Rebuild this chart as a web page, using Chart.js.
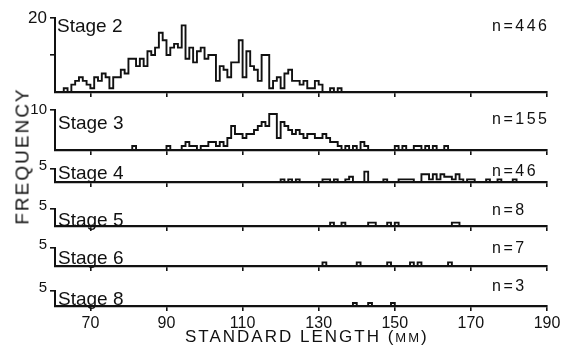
<!DOCTYPE html>
<html>
<head>
<meta charset="utf-8">
<script src="https://cdn.jsdelivr.net/npm/chart.js@4.4.0/dist/chart.umd.min.js"></script>
<style>
  body { margin: 0; background: #fff; }
  #wrap { position: relative; width: 567px; height: 348px; overflow: hidden;
          font-family: "Liberation Sans", Arial, sans-serif; color: #111; }
  #wrap canvas { position: absolute; left: 0; }
  .txt { position: absolute; white-space: nowrap; }
</style>
</head>
<body>
<div id="wrap"></div>
<script>
// data (1 mm bins, value = bin start)
const stageNames = ["Stage 2", "Stage 3", "Stage 4", "Stage 5", "Stage 6", "Stage 8"];
const sampleSizes = [446, 155, 46, 8, 7, 3];
const yTickValues = [[10, 20], [10], [5], [5], [5], [5]];
const xTickValues = [70, 90, 110, 130, 150, 170, 190];
const xMin = 60.7;
const xMax = 190;

const stage2Start = 61;
const stage2Counts = [0, 0, 1, 0, 2, 3, 4, 3, 2, 1,
  4, 3, 5, 4, 1, 4, 4, 6, 5, 9,
  9, 7, 9, 7, 11, 10, 12, 16, 14, 10,
  12, 13, 12, 18, 9, 12, 8, 11, 12, 9,
  10, 10, 3, 7, 6, 4, 8, 8, 14, 4,
  11, 7, 6, 3, 10, 10, 1, 3, 4, 1,
  5, 6, 3, 3, 2, 3, 1, 1, 3, 2,
  0, 0, 1, 0, 1];

const stage3Start = 81;
const stage3Counts = [1, 0, 0, 0, 0, 0, 0, 0, 0, 1,
  0, 0, 0, 1, 2, 1, 1, 0, 1, 1,
  2, 2, 1, 2, 1, 3, 6, 4, 4, 3,
  4, 4, 5, 6, 7, 6, 9, 9, 3, 7,
  6, 5, 4, 5, 4, 3, 4, 4, 3, 3,
  4, 3, 2, 2, 1, 0, 1, 0, 1, 0,
  2, 1, 0, 0, 0, 0, 0, 0, 0, 1,
  0, 1, 0, 0, 1, 1, 0, 1, 0, 1,
  0, 0, 1];

const stage4Bins = [120, 122, 124, 131, 132, 134, 137, 138, 142, 147, 151, 152, 153, 154,
  157, 158, 159, 160, 161, 162, 163, 164, 165, 166, 167, 169, 170, 174, 177, 181];
const stage4Counts = [1, 1, 1, 1, 1, 1, 1, 2, 4, 1, 1, 1, 1, 1,
  3, 3, 1, 3, 1, 3, 2, 2, 1, 3, 1, 1, 1, 1, 1, 1];

const stage5Bins = [133, 136, 143, 144, 148, 150, 165, 166];
const stage5Counts = [1, 1, 1, 1, 1, 1, 1, 1];

const stage6Bins = [131, 140, 148, 154, 156, 164];
const stage6Counts = [1, 1, 1, 1, 1, 1];

const stage8Bins = [139, 143, 149];
const stage8Counts = [1, 1, 1];

// page layout (pixels)
const panelTop = [18, 110, 169, 209, 248, 291];
const panelBase = [91.5, 150, 182, 226, 266, 306];
const stageLabelTop = [18, 115, 165, 212, 250, 291];
const nLabelTop = [20, 113, 165, 204, 242, 280];

const ink = "#111";
const fontFamily = '"Liberation Sans", Arial, sans-serif';
Chart.defaults.font.family = fontFamily;
Chart.defaults.color = ink;

function seq(start, counts) {
  return counts.map((c, i) => start + i);
}

function stepPoints(bins, counts) {
  const pts = [];
  bins.forEach((b, i) => {
    if (i === 0 || bins[i - 1] + 1 !== b) pts.push({ x: b, y: 0 });
    pts.push({ x: b, y: counts[i] });
    if (i === bins.length - 1 || bins[i + 1] !== b + 1) pts.push({ x: b + 1, y: 0 });
  });
  return pts;
}

const series = [
  stepPoints(seq(stage2Start, stage2Counts), stage2Counts),
  stepPoints(seq(stage3Start, stage3Counts), stage3Counts),
  stepPoints(stage4Bins, stage4Counts),
  stepPoints(stage5Bins, stage5Counts),
  stepPoints(stage6Bins, stage6Counts),
  stepPoints(stage8Bins, stage8Counts)
];

const wrap = document.getElementById("wrap");

function addText(html, left, capTop, size, spacing) {
  const d = document.createElement("div");
  d.className = "txt";
  d.innerHTML = html;
  d.style.left = left + "px";
  d.style.top = (capTop - 0.13 * size) + "px";
  d.style.fontSize = size + "px";
  d.style.lineHeight = size + "px";
  d.style.letterSpacing = (spacing || 0) + "px";
  wrap.appendChild(d);
  return d;
}

function makePanel(i) {
  const isBottom = i === stageNames.length - 1;
  const padTop = 12;
  const xAxisH = isBottom ? 34 : 6;
  const top = panelTop[i] - padTop;
  const height = Math.round(panelBase[i] - top + xAxisH);
  const yMax = yTickValues[i][yTickValues[i].length - 1];

  const canvas = document.createElement("canvas");
  canvas.width = 567;
  canvas.height = height;
  canvas.style.top = top + "px";
  wrap.appendChild(canvas);

  new Chart(canvas, {
    type: "line",
    data: {
      datasets: [{
        data: series[i],
        stepped: "before",
        borderColor: ink,
        borderWidth: 1.9,
        pointRadius: 0,
        fill: false
      }]
    },
    options: {
      responsive: false,
      animation: false,
      layout: { padding: { top: padTop, right: 20, left: 0, bottom: 0 } },
      plugins: { legend: { display: false }, tooltip: { enabled: false } },
      scales: {
        x: {
          type: "linear",
          min: xMin,
          max: xMax,
          afterBuildTicks: s => { s.ticks = xTickValues.map(v => ({ value: v })); },
          afterFit: s => { s.paddingLeft = 0; s.paddingRight = 0; s.height = xAxisH; },
          grid: { drawOnChartArea: false, drawTicks: true, tickLength: 5, color: ink, lineWidth: 1.6 },
          border: { display: true, color: ink, width: 2.2 },
          ticks: {
            display: isBottom, autoSkip: false, maxRotation: 0, padding: 3,
            font: { size: 16 }, color: ink
          }
        },
        y: {
          min: 0,
          max: yMax,
          afterBuildTicks: s => { s.ticks = yTickValues[i].map(v => ({ value: v })); },
          afterFit: s => { s.width = 55; s.paddingTop = 0; s.paddingBottom = 0; },
          grid: { drawOnChartArea: false, drawTicks: true, tickLength: 5, color: ink, lineWidth: 1.6 },
          border: { display: true, color: ink, width: 2 },
          ticks: {
            padding: 3,
            labelOffset: i < 2 ? 0 : -3,
            font: { size: i === 0 ? 17 : 15 },
            color: ink,
            callback: v => (v === yMax ? String(v) : "")
          }
        }
      }
    }
  });

  addText(stageNames[i], i === 0 ? 57 : 58, stageLabelTop[i], 19, 0);
  addText("n=" + sampleSizes[i], 492, nLabelTop[i], 16, 2.5);
}

stageNames.forEach((_, i) => makePanel(i));

addText('STANDARD LENGTH (<span style="font-size:13px">MM</span>)', 185, 330, 17, 2);

const freq = addText("FREQUENCY", 22, 0, 19, 2);
freq.style.top = "156px";
freq.style.transform = "translate(-50%, -50%) rotate(-90deg)";
</script>
</body>
</html>
